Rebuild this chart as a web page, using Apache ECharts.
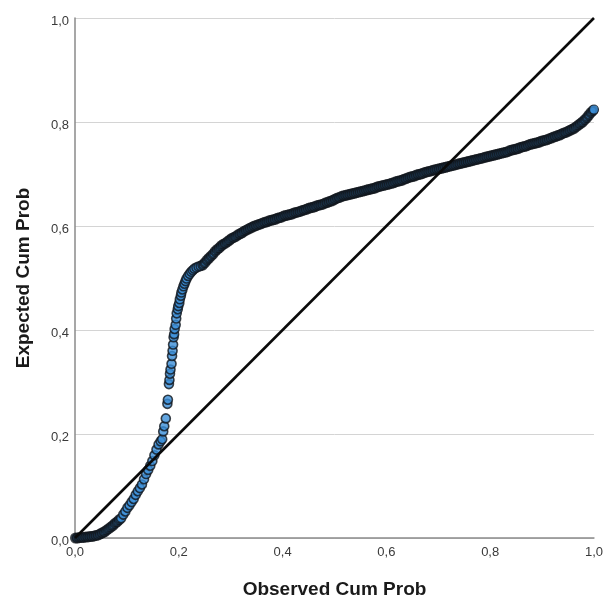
<!DOCTYPE html>
<html>
<head>
<meta charset="utf-8">
<script src="https://cdn.jsdelivr.net/npm/echarts@6/dist/echarts.min.js"></script>
<style>
html,body{margin:0;padding:0;background:#fff;}
#chart{width:606px;height:604px;}
</style>
</head>
<body>
<div id="chart"></div>
<script>
// Observed cumulative probability (x) and expected cumulative probability (y)
// dense start of the curve
var observedLow = [0.001,0.005,0.009,0.013,0.017,0.021,0.025,0.029,0.033,0.037,0.041,0.045,0.049,0.053,0.057,0.061,0.065,0.069,0.073,0.077,0.081,0.085];
var expectedLow = [0.000,0.000,0.001,0.001,0.001,0.002,0.002,0.003,0.003,0.004,0.005,0.006,0.008,0.010,0.012,0.015,0.018,0.021,0.024,0.028,0.031,0.035];

// rising / steep part where single points are visible
var observedMid = [0.089,0.093,0.097,0.101,0.105,0.109,0.113,0.117,0.121,0.125,0.129,0.133,0.137,0.141,0.145,0.149,0.153,0.157,0.161,0.165,
0.168,0.170,0.172,0.175,0.178,0.179,0.181,0.182,0.183,0.184,0.186,0.187,0.188,0.189,0.190,0.191,0.192,0.194,0.195,0.196,0.198,0.199,0.201,0.202,0.204,0.205,0.207,0.209,0.211,0.213,0.215,0.218,0.221,0.224,0.227,0.230,0.234,0.238,0.242];
var expectedMid = [0.038,0.045,0.051,0.058,0.063,0.069,0.075,0.083,0.090,0.096,0.103,0.113,0.123,0.131,0.139,0.148,0.159,0.170,0.180,0.186,
0.190,0.205,0.215,0.230,0.258,0.266,0.296,0.304,0.316,0.324,0.335,0.350,0.360,0.372,0.386,0.392,0.402,0.410,0.422,0.432,0.440,0.446,0.452,0.459,0.466,0.472,0.478,0.484,0.489,0.494,0.499,0.504,0.508,0.512,0.515,0.518,0.520,0.522,0.523];

// dense upper part of the curve
var observedHigh = [
0.246,0.250,0.254,0.258,0.262,0.266,0.270,0.274,0.278,0.282,
0.286,0.290,0.294,0.298,0.302,0.306,0.310,0.314,0.318,0.322,
0.326,0.330,0.334,0.338,0.342,0.346,0.350,0.354,0.358,0.362,
0.366,0.370,0.374,0.378,0.382,0.386,0.390,0.394,0.398,0.402,
0.406,0.410,0.414,0.418,0.422,0.426,0.430,0.434,0.438,0.442,
0.446,0.450,0.454,0.458,0.462,0.466,0.470,0.474,0.478,0.482,
0.486,0.490,0.494,0.498,0.502,0.506,0.510,0.514,0.518,0.522,
0.526,0.530,0.534,0.538,0.542,0.546,0.550,0.554,0.558,0.562,
0.566,0.570,0.574,0.578,0.582,0.586,0.590,0.594,0.598,0.602,
0.606,0.610,0.614,0.618,0.622,0.626,0.630,0.634,0.638,0.642,
0.646,0.650,0.654,0.658,0.662,0.666,0.670,0.674,0.678,0.682,
0.686,0.690,0.694,0.698,0.702,0.706,0.710,0.714,0.718,0.722,
0.726,0.730,0.734,0.738,0.742,0.746,0.750,0.754,0.758,0.762,
0.766,0.770,0.774,0.778,0.782,0.786,0.790,0.794,0.798,0.802,
0.806,0.810,0.814,0.818,0.822,0.826,0.830,0.834,0.838,0.842,
0.846,0.850,0.854,0.858,0.862,0.866,0.870,0.874,0.878,0.882,
0.886,0.890,0.894,0.898,0.902,0.906,0.910,0.914,0.918,0.922,
0.926,0.930,0.934,0.938,0.942,0.946,0.950,0.954,0.958,0.962,
0.966,0.970,0.974,0.978,0.982,0.986,0.990,0.994,0.998];
var expectedHigh = [
0.525,0.529,0.534,0.538,0.542,0.546,0.551,0.555,0.558,0.562,
0.565,0.567,0.570,0.573,0.576,0.578,0.580,0.583,0.585,0.587,
0.590,0.592,0.594,0.596,0.598,0.600,0.601,0.603,0.604,0.606,
0.607,0.608,0.610,0.611,0.612,0.613,0.615,0.616,0.617,0.619,
0.620,0.621,0.622,0.623,0.625,0.626,0.627,0.628,0.630,0.631,
0.632,0.634,0.635,0.636,0.637,0.639,0.640,0.641,0.642,0.644,
0.645,0.647,0.648,0.650,0.652,0.654,0.655,0.657,0.658,0.659,
0.660,0.661,0.662,0.663,0.664,0.665,0.666,0.667,0.668,0.669,
0.670,0.671,0.672,0.673,0.675,0.676,0.677,0.678,0.679,0.680,
0.681,0.682,0.683,0.685,0.686,0.687,0.688,0.690,0.691,0.693,
0.694,0.695,0.696,0.698,0.699,0.700,0.701,0.703,0.704,0.705,
0.706,0.707,0.708,0.709,0.710,0.711,0.712,0.713,0.714,0.715,
0.716,0.717,0.718,0.719,0.720,0.721,0.722,0.723,0.724,0.725,
0.726,0.727,0.728,0.729,0.730,0.731,0.732,0.733,0.734,0.735,
0.736,0.737,0.738,0.739,0.740,0.741,0.742,0.743,0.745,0.746,
0.747,0.748,0.749,0.751,0.752,0.753,0.754,0.756,0.757,0.758,
0.759,0.760,0.761,0.763,0.764,0.765,0.766,0.768,0.769,0.771,
0.772,0.774,0.775,0.777,0.779,0.780,0.782,0.784,0.786,0.788,
0.791,0.794,0.797,0.800,0.804,0.808,0.813,0.818,0.822];

// last (largest) observation, visible on top
var observedLast = [1.000];
var expectedLast = [0.824];

var refLineX = [0, 1];
var refLineY = [0, 1];
var xTitle = 'Observed Cum Prob';
var yTitle = 'Expected Cum Prob';

function pairs(xs, ys) {
  var out = [];
  for (var i = 0; i < xs.length; i++) out.push([xs[i], ys[i]]);
  return out;
}

function fmt(v) { return v.toFixed(1).replace('.', ','); }
function fmtY(v) { return '{t|' + fmt(v) + '}'; }

var FONT = '"Liberation Sans", Arial, sans-serif';
var BLUE = '#3b8ed8';
var EDGE = '#10151c';
var chart = echarts.init(document.getElementById('chart'), null, {renderer: 'canvas'});
chart.setOption({
  animation: false,
  backgroundColor: '#ffffff',
  grid: {left: 75, right: 8, top: 18, bottom: 64, containLabel: false},
  xAxis: {
    type: 'value', min: 0, max: 1, interval: 0.2,
    name: xTitle, nameLocation: 'middle', nameGap: 42,
    nameTextStyle: {fontFamily: FONT, fontSize: 19, fontWeight: 'bold', color: '#1a1a1a'},
    axisLine: {show: true, lineStyle: {color: '#8a8a8a', width: 1.5}},
    axisTick: {show: false},
    axisLabel: {formatter: fmt, fontFamily: FONT, fontSize: 13, color: '#3a3a3a', margin: 8},
    splitLine: {show: false}
  },
  yAxis: {
    type: 'value', min: 0, max: 1, interval: 0.2,
    name: yTitle, nameLocation: 'middle', nameGap: 42,
    nameTextStyle: {fontFamily: FONT, fontSize: 19, fontWeight: 'bold', color: '#1a1a1a'},
    axisLine: {show: true, lineStyle: {color: '#8a8a8a', width: 1.5}},
    axisTick: {show: false},
    axisLabel: {
      formatter: fmtY, margin: 6,
      rich: {t: {fontFamily: FONT, fontSize: 13, color: '#3a3a3a', padding: [6, 0, 0, 0]}}
    },
    splitLine: {show: true, lineStyle: {color: '#d4d4d4', width: 1}}
  },
  series: [
    {
      type: 'scatter', data: pairs(observedLow, expectedLow),
      symbol: 'circle', symbolSize: 8,
      itemStyle: {color: BLUE, borderColor: EDGE, borderWidth: 3}, z: 2
    },
    {
      type: 'scatter', data: pairs(observedMid, expectedMid),
      symbol: 'circle', symbolSize: 9,
      itemStyle: {color: BLUE, borderColor: EDGE, borderWidth: 1.6}, z: 2
    },
    {
      type: 'scatter', data: pairs(observedHigh, expectedHigh),
      symbol: 'circle', symbolSize: 8,
      itemStyle: {color: BLUE, borderColor: EDGE, borderWidth: 3}, z: 2
    },
    {
      type: 'scatter', data: pairs(observedLast, expectedLast),
      symbol: 'circle', symbolSize: 9,
      itemStyle: {color: BLUE, borderColor: EDGE, borderWidth: 1.2}, z: 2
    },
    {
      type: 'line', data: pairs(refLineX, refLineY),
      showSymbol: false, symbol: 'none',
      lineStyle: {color: '#0a0a0a', width: 2.6}, z: 3
    }
  ]
});
</script>
</body>
</html>
